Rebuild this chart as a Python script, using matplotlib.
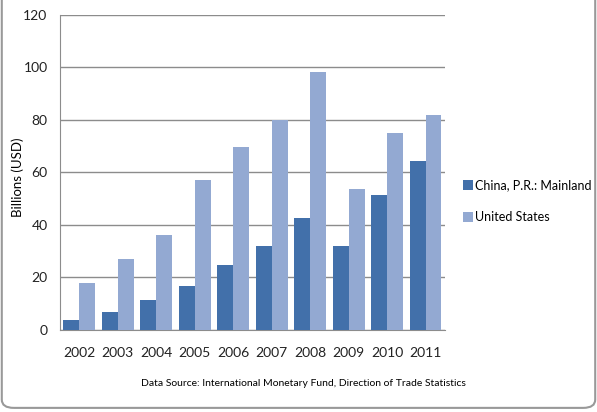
import numpy as np
import matplotlib.pyplot as plt
from matplotlib.patches import FancyBboxPatch

plt.rcParams["font.family"] = ["Lato", "DejaVu Sans"]

# Data
years = ["2002", "2003", "2004", "2005", "2006", "2007", "2008", "2009", "2010", "2011"]
china = [3.8, 6.8, 11.4, 16.6, 24.7, 32.0, 42.7, 32.0, 51.4, 64.4]
usa = [18.0, 27.0, 36.0, 57.0, 69.5, 80.0, 98.3, 53.8, 75.0, 82.0]

fig = plt.figure(figsize=(5.97, 4.12), dpi=100)
ax = fig.add_axes([0.1005, 0.199, 0.6445, 0.765])

x = np.arange(len(years))
w = 0.415
ax.bar(x - w / 2, china, w, color="#4270AA", label="China, P.R.: Mainland", zorder=3)
ax.bar(x + w / 2, usa, w, color="#93A9D2", label="United States", zorder=3)

ax.set_xlim(-0.5, len(years) - 0.5)
ax.set_ylim(0, 120)
ax.set_yticks(range(0, 121, 20))
ax.set_xticks(x)
ax.set_xticklabels(years)
ax.yaxis.grid(True, color="#8c8c8c", linewidth=1)
ax.set_axisbelow(True)
for s in ["top", "right"]:
    ax.spines[s].set_visible(False)
ax.spines["left"].set_color("#8c8c8c")
ax.spines["bottom"].set_color("#8c8c8c")
ax.tick_params(axis="both", length=0, labelsize=10, colors="#222222")
ax.tick_params(axis="x", pad=12)
ax.tick_params(axis="y", pad=9)

fig.text(0.03, 0.57, "Billions (USD)", rotation=90, ha="center", va="center", fontsize=9.5)

fig.legend(loc="upper left", bbox_to_anchor=(0.77, 0.575), frameon=False,
           fontsize=9, handlelength=0.75, handleheight=0.85, handletextpad=0.2,
           labelspacing=1.6, borderaxespad=0, borderpad=0.3)

fig.text(0.509, 0.07, "Data Source: International Monetary Fund, Direction of Trade Statistics",
         ha="center", va="center", fontsize=7.5)

# rounded frame
frame = FancyBboxPatch((0.003, 0.01), 0.994, 1.2, boxstyle="round,pad=0,rounding_size=0.02",
                       transform=fig.transFigure, fill=False, edgecolor="#999999",
                       linewidth=1.5, zorder=0)
fig.patches.append(frame)

plt.savefig("out.png", dpi=100)
